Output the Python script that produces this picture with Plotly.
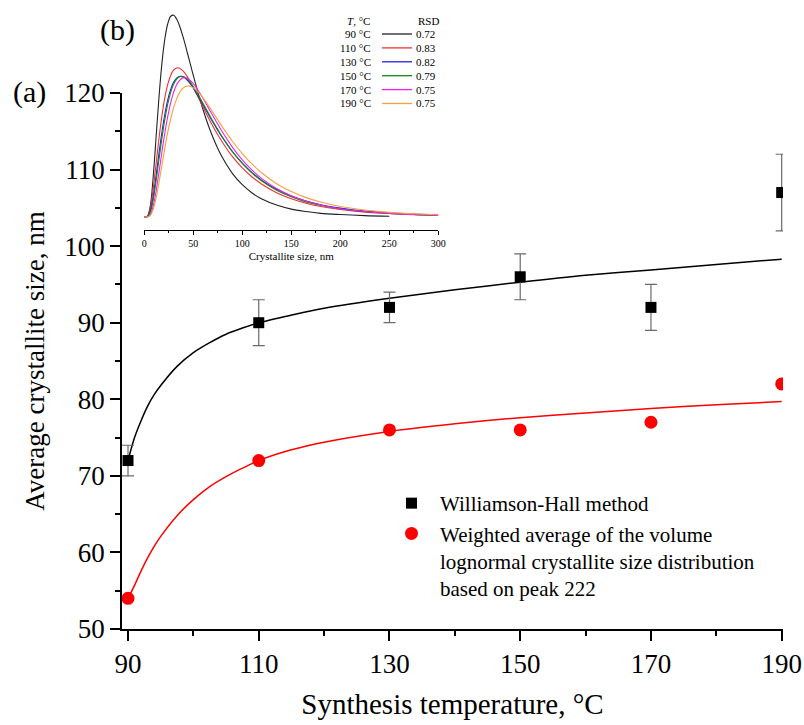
import plotly.graph_objects as go

# ---------------- main panel (a) data ----------------
temps = [90, 110, 130, 150, 170, 190]
wh_size = [72, 90, 92, 96, 92, 107]
wh_err = [2, 3, 2, 3, 3, 5]
lognorm_size = [54, 72, 76, 76, 77, 82]

fit_x = [90, 91, 92, 93, 94, 95, 97.5, 100, 102.5, 105, 107.5, 110, 115, 120, 130, 140, 150, 160, 170, 180, 190]
wh_fit = [72.0, 75.0, 77.2, 79.1, 80.6, 81.8, 84.3, 86.1, 87.4, 88.5, 89.3, 90.0, 91.0, 91.9, 93.2, 94.3, 95.3, 96.2, 96.9, 97.6, 98.3]
ln_fit = [54.0, 55.7, 57.6, 59.3, 60.8, 62.1, 64.8, 66.9, 68.6, 69.9, 71.0, 72.0, 73.4, 74.4, 75.8, 76.8, 77.6, 78.2, 78.8, 79.3, 79.7]

# ---------------- inset (b) data ----------------
size_nm = [0, 3, 6, 9, 12, 15, 18, 21, 24, 27, 30, 33, 36, 40, 44, 48, 52, 56, 60, 65, 70,
           75, 80, 90, 100, 110, 120, 135, 150, 165, 180, 200, 225, 250, 275, 300]
dist_90 = [0.0, 0.2, 5.1, 19.4, 39.4, 59.4, 76.2, 88.3, 95.8, 99.4, 99.9, 98.0, 94.6, 88.4, 81.2, 73.8, 66.5, 59.5, 53.1, 45.8, 39.5, 33.9, 29.2, 21.5, 16.0, 11.9, 8.9, 5.9, 3.9, 2.7, 1.8, 1.2, 0.7, 0.4]
dist_110 = [0.0, 0.3, 4.2, 13.7, 26.3, 39.0, 50.2, 59.2, 65.8, 70.2, 72.8, 73.8, 73.7, 72.1, 69.4, 66.0, 62.2, 58.3, 54.3, 49.5, 44.9, 40.7, 36.8, 29.9, 24.3, 19.8, 16.2, 12.0, 9.0, 6.8, 5.2, 3.7, 2.4, 1.7, 1.1, 0.8]
dist_130 = [0.0, 0.2, 2.8, 10.0, 20.3, 31.6, 42.1, 51.0, 58.1, 63.3, 66.8, 68.8, 69.6, 69.3, 67.7, 65.3, 62.3, 59.0, 55.5, 51.2, 46.9, 42.9, 39.1, 32.3, 26.7, 22.0, 18.1, 13.7, 10.4, 7.9, 6.1, 4.4, 2.9, 2.0, 1.4, 1.0]
dist_150 = [0.0, 0.1, 2.1, 8.2, 17.7, 28.6, 39.2, 48.5, 56.1, 61.8, 65.8, 68.3, 69.5, 69.5, 68.2, 65.9, 63.0, 59.7, 56.2, 51.8, 47.4, 43.3, 39.4, 32.4, 26.5, 21.7, 17.8, 13.3, 10.0, 7.5, 5.8, 4.1, 2.7, 1.8, 1.2, 0.9]
dist_170 = [0.0, 0.0, 1.1, 5.2, 12.7, 22.2, 32.3, 41.8, 50.0, 56.7, 61.9, 65.5, 67.7, 69.0, 68.6, 67.1, 64.8, 61.9, 58.7, 54.4, 50.1, 45.9, 41.8, 34.5, 28.3, 23.2, 19.0, 14.1, 10.5, 7.9, 5.9, 4.1, 2.7, 1.8, 1.2, 0.8]
dist_190 = [0.0, 0.0, 0.7, 3.7, 9.3, 17.1, 25.7, 34.2, 42.1, 48.8, 54.3, 58.5, 61.6, 64.0, 64.9, 64.5, 63.3, 61.3, 58.9, 55.5, 51.8, 48.1, 44.4, 37.5, 31.4, 26.2, 21.8, 16.5, 12.6, 9.6, 7.4, 5.2, 3.5, 2.3, 1.6, 1.1]

inset_labels = ["90 °C", "110 °C", "130 °C", "150 °C", "170 °C", "190 °C"]
inset_rsd = ["0.72", "0.83", "0.82", "0.79", "0.75", "0.75"]
inset_colors = ["#222222", "#f03030", "#2020e0", "#108a10", "#f020f0", "#f7a040"]
inset_series = [dist_90, dist_110, dist_130, dist_150, dist_170, dist_190]

FONT = "Liberation Serif, Times New Roman, DejaVu Serif, serif"
W, H = 804, 725
ML, MR, MT, MB = 122, 21, 10, 96
PW, PH = W - ML - MR, H - MT - MB


def px2paper_x(px):
    return (px - ML) / PW


def px2paper_y(py):
    return (H - MB - py) / PH


fig = go.Figure()

# fitted curves (main)
fig.add_trace(go.Scatter(x=fit_x, y=wh_fit, mode="lines", line=dict(color="black", width=1.5, shape="spline", smoothing=0.8),
                         showlegend=False, hoverinfo="skip"))
fig.add_trace(go.Scatter(x=fit_x, y=ln_fit, mode="lines", line=dict(color="#ff0000", width=1.5, shape="spline", smoothing=0.8),
                         showlegend=False, hoverinfo="skip"))

fig.add_trace(go.Scatter(
    x=temps, y=wh_size, mode="markers", name="Williamson-Hall method",
    marker=dict(symbol="square", size=11, color="black"),
    error_y=dict(type="data", array=wh_err, visible=True, color="#6a6a6a", thickness=1.2, width=6),
))
fig.add_trace(go.Scatter(
    x=temps, y=lognorm_size, mode="markers",
    name="Weighted average of the volume<br>lognormal crystallite size distribution<br>based on peak 222",
    marker=dict(symbol="circle", size=13, color="#ff0000"),
))

# inset curves
for lab, ser, col in zip(inset_labels, inset_series, inset_colors):
    fig.add_trace(go.Scatter(x=size_nm[:len(ser)], y=ser, mode="lines", xaxis="x2", yaxis="y2",
                             line=dict(color=col, width=1.1, shape="spline"), showlegend=False,
                             name=lab, hoverinfo="skip"))

main_y_top = px2paper_y(93)
inset_x0, inset_x1 = px2paper_x(144.3), px2paper_x(438.3)
inset_y0 = px2paper_y(230)

fig.update_layout(
    width=W, height=H,
    margin=dict(l=ML, r=MR, t=MT, b=MB, autoexpand=False),
    paper_bgcolor="white", plot_bgcolor="white",
    font=dict(family=FONT, color="black"),
    xaxis=dict(
        domain=[0, 1], range=[89.08, 190.2], tick0=90, dtick=20, automargin=False,
        showline=True, linecolor="black", linewidth=1.5, showgrid=False, zeroline=False,
        ticks="outside", ticklen=10, tickwidth=1.5, tickcolor="black",
        tickfont=dict(family=FONT, size=27),
        minor=dict(dtick=10, ticks="outside", ticklen=5, tickwidth=1.5, tickcolor="black", showgrid=False),
        title=dict(text="Synthesis temperature, °C", font=dict(family=FONT, size=29), standoff=16),
        anchor="y",
    ),
    yaxis=dict(
        domain=[0, main_y_top], range=[50, 120], tick0=50, dtick=10, automargin=False,
        showline=True, linecolor="black", linewidth=1.5, showgrid=False, zeroline=False,
        ticks="outside", ticklen=10, tickwidth=1.5, tickcolor="black",
        tickfont=dict(family=FONT, size=27),
        minor=dict(dtick=5, ticks="outside", ticklen=5, tickwidth=1.5, tickcolor="black", showgrid=False),
        title=dict(text="Average crystallite size, nm", font=dict(family=FONT, size=27), standoff=12),
        anchor="x",
    ),
    xaxis2=dict(
        domain=[inset_x0, inset_x1], range=[0, 300], tick0=0, dtick=50, anchor="y2", automargin=False,
        showline=True, linecolor="black", linewidth=1, showgrid=False, zeroline=False,
        ticks="outside", ticklen=4, tickwidth=1, tickcolor="black",
        tickfont=dict(family=FONT, size=10),
        minor=dict(dtick=25, ticks="outside", ticklen=2, tickwidth=1, tickcolor="black", showgrid=False),
        title=dict(text="Crystallite size, nm", font=dict(family=FONT, size=11), standoff=4),
    ),
    yaxis2=dict(domain=[inset_y0, 1.0], range=[-6.44, 102.5], visible=False, anchor="x2", automargin=False),
    legend=dict(
        x=px2paper_x(383), y=px2paper_y(483), xanchor="left", yanchor="top",
        font=dict(family=FONT, size=21), bgcolor="rgba(0,0,0,0)", valign="top",
        tracegroupgap=0, itemwidth=47,
    ),
)

annotations = [
    dict(text="(a)", x=px2paper_x(29), y=px2paper_y(92), xref="paper", yref="paper",
         showarrow=False, font=dict(family=FONT, size=30), xanchor="center", yanchor="middle"),
    dict(text="(b)", x=px2paper_x(117), y=px2paper_y(30), xref="paper", yref="paper",
         showarrow=False, font=dict(family=FONT, size=30), xanchor="center", yanchor="middle"),
    dict(text="<i>T</i>, °C", x=px2paper_x(358), y=px2paper_y(20.7), xref="paper", yref="paper",
         showarrow=False, font=dict(family=FONT, size=11), xanchor="center", yanchor="middle"),
    dict(text="RSD", x=px2paper_x(428), y=px2paper_y(20.7), xref="paper", yref="paper",
         showarrow=False, font=dict(family=FONT, size=11), xanchor="center", yanchor="middle"),
]
shapes = []
row_y0, row_dy = 34.0, 13.9
for i, (lab, rsd, col) in enumerate(zip(inset_labels, inset_rsd, inset_colors)):
    ry = row_y0 + i * row_dy
    annotations.append(dict(text=lab, x=px2paper_x(373), y=px2paper_y(ry), xref="paper", yref="paper",
                            showarrow=False, font=dict(family=FONT, size=11), xanchor="right", yanchor="middle"))
    annotations.append(dict(text=rsd, x=px2paper_x(414), y=px2paper_y(ry), xref="paper", yref="paper",
                            showarrow=False, font=dict(family=FONT, size=11), xanchor="left", yanchor="middle"))
    shapes.append(dict(type="line", xref="paper", yref="paper",
                       x0=px2paper_x(382), x1=px2paper_x(412), y0=px2paper_y(ry), y1=px2paper_y(ry),
                       line=dict(color=col, width=1.3)))

fig.update_layout(annotations=annotations, shapes=shapes)

fig.write_html("out.html")
